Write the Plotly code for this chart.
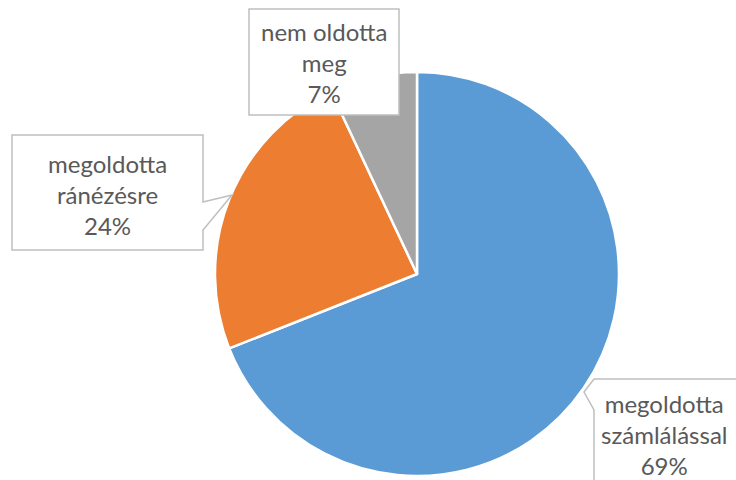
import plotly.graph_objects as go

categories = ["megoldotta számlálással", "megoldotta ránézésre", "nem oldotta meg"]
values = [69, 24, 7]
colors = ["#5B9BD5", "#ED7D31", "#A5A5A5"]
label_texts = ["megoldotta<br>számlálással<br>69%", "megoldotta<br>ránézésre<br>24%", "nem oldotta<br>meg<br>7%"]

W, H = 736, 480

def px(x):
    return x / W

def py(y):
    return 1 - y / H

def path(points):
    return "M " + " L ".join(f"{px(x):.5f},{py(y):.5f}" for x, y in points) + " Z"

cx, cy, r = 417, 274, 202

fig = go.Figure(go.Pie(
    labels=categories, values=values, sort=False, direction="clockwise", rotation=0,
    marker=dict(colors=colors, line=dict(color="white", width=2.5)),
    textinfo="none", hoverinfo="label+percent", showlegend=False,
    domain=dict(x=[px(cx - r), px(cx + r)], y=[py(cy + r), py(cy - r)]),
))

callouts = [
    [(584, 392), (594, 379), (750, 379), (750, 490), (594, 490), (594, 410)],
    [(12, 135), (203, 135), (203, 202), (232, 195), (203, 230), (203, 250), (12, 250)],
    [(249, 9), (399, 9), (399, 115), (249, 115)],
]
text_pos = [(664, 434), (107, 194), (324, 63)]

shapes = []
for pts in callouts:
    shapes.append(dict(type="path", xref="paper", yref="paper", path=path(pts),
                       fillcolor="white", line=dict(color="#BFBFBF", width=1.5), layer="above"))

annotations = []
for t, (x, y) in zip(label_texts, text_pos):
    annotations.append(dict(text=t, xref="paper", yref="paper", x=px(x), y=py(y),
                            xanchor="center", yanchor="middle", showarrow=False, align="center",
                            font=dict(family="Lato", size=24, color="#595959")))

fig.update_layout(width=W, height=H, margin=dict(l=0, r=0, t=0, b=0),
                  paper_bgcolor="white", plot_bgcolor="white",
                  shapes=shapes, annotations=annotations)

fig.write_html("out.html")
